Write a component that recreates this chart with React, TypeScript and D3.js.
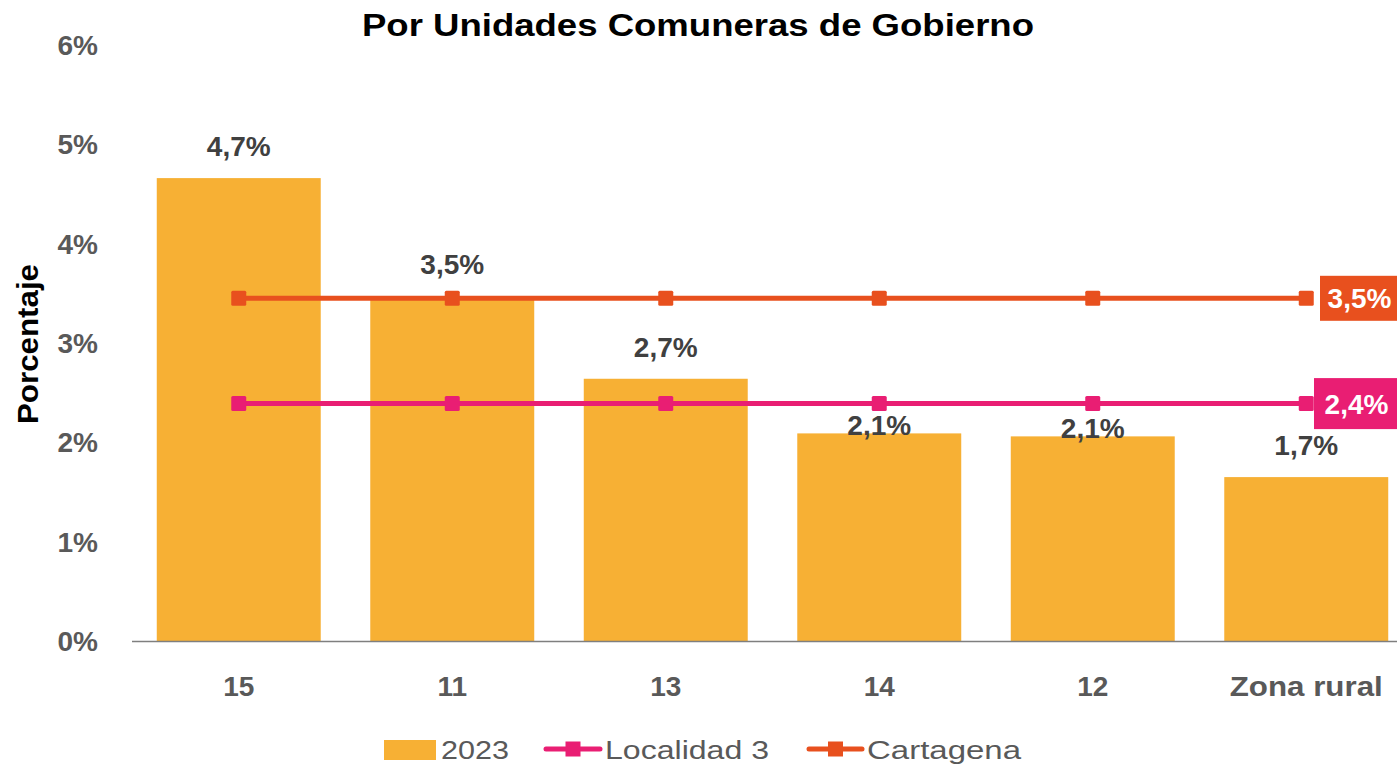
import React, { useRef, useEffect } from 'react';
import * as d3 from 'd3';

const categories = ['15', '11', '13', '14', '12', 'Zona rural'];
const values2023 = [4.66, 3.47, 2.64, 2.09, 2.06, 1.65];
const valueLabels = ['4,7%', '3,5%', '2,7%', '2,1%', '2,1%', '1,7%'];
const localidad = [2.39, 2.39, 2.39, 2.39, 2.39, 2.39];
const cartagena = [3.45, 3.45, 3.45, 3.45, 3.45, 3.45];
const yTicks = [0, 1, 2, 3, 4, 5, 6];

const FONT = "'Liberation Sans', Arial, sans-serif";

function App() {
  const svgRef = useRef(null);

  useEffect(() => {
    const svg = d3.select(svgRef.current);
    svg.selectAll('*').remove();

    const width = 1397;

    const x = d3.scaleBand()
      .domain(categories)
      .range([132, 1413])
      .paddingInner(0.232)
      .paddingOuter(0.116);

    const y = d3.scaleLinear()
      .domain([0, 6])
      .range([641, 45]);

    // title
    svg.append('text')
      .attr('x', 362)
      .attr('y', 36)
      .attr('font-family', FONT)
      .attr('font-weight', 700)
      .attr('font-size', '31px')
      .attr('textLength', 672)
      .attr('lengthAdjust', 'spacingAndGlyphs')
      .attr('fill', '#000')
      .text('Por Unidades Comuneras de Gobierno');

    // y tick labels
    svg.append('g')
      .selectAll('text')
      .data(yTicks)
      .join('text')
      .attr('x', 98)
      .attr('y', d => y(d))
      .attr('dy', '0.36em')
      .attr('text-anchor', 'end')
      .attr('font-family', FONT)
      .attr('font-weight', 700)
      .attr('font-size', '28px')
      .attr('fill', '#595959')
      .text(d => d + '%');

    // y title
    svg.append('text')
      .attr('transform', 'translate(38, 424) rotate(-90)')
      .attr('font-family', FONT)
      .attr('font-weight', 700)
      .attr('font-size', '29px')
      .attr('textLength', 160)
      .attr('lengthAdjust', 'spacingAndGlyphs')
      .attr('fill', '#000')
      .text('Porcentaje');

    // bars
    svg.append('g')
      .selectAll('rect')
      .data(values2023)
      .join('rect')
      .attr('x', (d, i) => x(categories[i]))
      .attr('y', d => y(d))
      .attr('width', x.bandwidth())
      .attr('height', d => y(0) - y(d))
      .attr('fill', '#F7B034');

    // axis line
    svg.append('line')
      .attr('x1', 132)
      .attr('x2', width)
      .attr('y1', y(0) + 0.5)
      .attr('y2', y(0) + 0.5)
      .attr('stroke', '#7f7f7f')
      .attr('stroke-width', 1.5);

    // x labels
    svg.append('g')
      .selectAll('text')
      .data(categories)
      .join('text')
      .attr('x', d => x(d) + x.bandwidth() / 2)
      .attr('y', 686)
      .attr('dy', '0.36em')
      .attr('text-anchor', 'middle')
      .attr('font-family', FONT)
      .attr('font-weight', 700)
      .attr('font-size', '28px')
      .attr('fill', '#595959')
      .each(function (d) {
        if (d.length > 3) d3.select(this).attr('textLength', 153).attr('lengthAdjust', 'spacingAndGlyphs');
      })
      .text(d => d);

    const cx = (i) => x(categories[i]) + x.bandwidth() / 2;
    const line = d3.line().x((d, i) => cx(i)).y(d => y(d));

    const drawSeries = (vals, color) => {
      svg.append('path')
        .datum(vals)
        .attr('d', line)
        .attr('fill', 'none')
        .attr('stroke', color)
        .attr('stroke-width', 5);
      svg.append('g')
        .selectAll('rect')
        .data(vals)
        .join('rect')
        .attr('x', (d, i) => cx(i) - 7.5)
        .attr('y', d => y(d) - 7.5)
        .attr('width', 15)
        .attr('height', 15)
        .attr('rx', 1.5)
        .attr('fill', color);
    };
    drawSeries(cartagena, '#E8501E');
    drawSeries(localidad, '#E91E73');

    // bar value labels (Excel nudged 14 and 12 down near the line)
    svg.append('g')
      .selectAll('text')
      .data(values2023)
      .join('text')
      .attr('x', (d, i) => cx(i))
      .attr('y', (d, i) => (i === 3 || i === 4) ? y(d) - 8 : y(d) - 32)
      .attr('dy', '0.36em')
      .attr('text-anchor', 'middle')
      .attr('font-family', FONT)
      .attr('font-weight', 700)
      .attr('font-size', '28px')
      .attr('fill', '#404040')
      .text((d, i) => valueLabels[i]);

    // end labels
    const endLabel = (val, text, color, bx, h) => {
      const yy = y(val);
      svg.append('rect')
        .attr('x', bx)
        .attr('y', yy - h / 2)
        .attr('width', width - bx)
        .attr('height', h)
        .attr('fill', color);
      svg.append('text')
        .attr('x', bx + (width - bx) / 2 + 1)
        .attr('y', yy)
        .attr('dy', '0.36em')
        .attr('text-anchor', 'middle')
        .attr('font-family', FONT)
        .attr('font-weight', 700)
        .attr('font-size', '28px')
        .attr('fill', '#fff')
        .text(text);
    };
    endLabel(cartagena[5], '3,5%', '#E8501E', 1320, 45);
    endLabel(localidad[5], '2,4%', '#E91E73', 1314, 51);

    // legend
    const lg = svg.append('g').attr('font-family', FONT).attr('font-size', '25px').attr('fill', '#595959');
    lg.append('rect').attr('x', 384).attr('y', 740).attr('width', 52).attr('height', 20).attr('fill', '#F7B034');
    const legText = (x0, len, label) => {
      lg.append('text').attr('x', x0).attr('y', 750).attr('dy', '0.36em')
        .attr('textLength', len).attr('lengthAdjust', 'spacingAndGlyphs').text(label);
    };
    legText(441, 68, '2023');
    const legLine = (x1, x2, color) => {
      lg.append('line').attr('x1', x1).attr('x2', x2).attr('y1', 749).attr('y2', 749)
        .attr('stroke', color).attr('stroke-width', 5).attr('stroke-linecap', 'round');
      lg.append('rect').attr('x', (x1 + x2) / 2 - 7.5).attr('y', 741.5).attr('width', 15).attr('height', 15).attr('fill', color);
    };
    legLine(546, 600, '#E91E73');
    legText(605, 164, 'Localidad 3');
    legLine(809, 862, '#E8501E');
    legText(867, 154, 'Cartagena');
  }, []);

  return <svg ref={svgRef} width={1397} height={766} style={{ display: 'block', position: 'absolute', left: 0, top: 0 }}></svg>;
}

export default App;
